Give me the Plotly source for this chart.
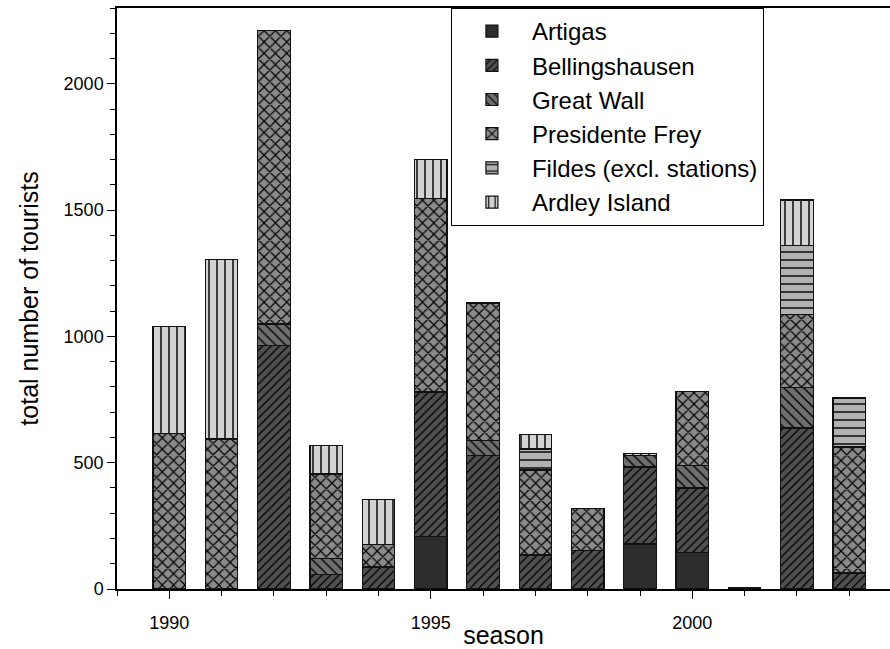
import plotly.graph_objects as go

# Tourist visits per season, stacked by site
seasons = list(range(1990, 2004))
artigas = [None, None, None, None, None, 208, None, None, None, 178, 144, None, None, None]
bellingshausen = [None, None, 964, 59, 87, 572, 527, 135, 152, 305, 256, 5, 637, 63]
great_wall = [None, None, 85, 62, None, None, 60, None, None, 44, 89, None, 162, None]
presidente_frey = [617, 594, 1162, 334, 88, 767, 545, 336, 167, None, 294, None, 289, 499]
fildes = [None, None, None, None, None, None, None, 83, None, None, None, None, 272, 194]
ardley = [422, 709, None, 113, 178, 152, None, 59, None, 10, None, None, 180, None]

# name, values, fill colour, hatch shape, hatch size, hatch solidity
series = [
    ("Artigas", artigas, "#2d2d2d", "", 8, 0.2),
    ("Bellingshausen", bellingshausen, "#505050", "/", 6, 0.22),
    ("Great Wall", great_wall, "#6e6e6e", "\\", 7, 0.2),
    ("Presidente Frey", presidente_frey, "#8a8a8a", "x", 8, 0.28),
    ("Fildes (excl. stations)", fildes, "#b2b2b2", "-", 8, 0.18),
    ("Ardley Island", ardley, "#d3d3d3", "|", 8, 0.18),
]

FONT = "Arial, 'Liberation Sans', sans-serif"

fig = go.Figure()
for name, vals, color, shape, psize, solid in series:
    fig.add_trace(go.Bar(
        x=seasons, y=vals, name=name, width=0.62,
        marker=dict(
            color=color,
            line=dict(color="#111111", width=1.2),
            pattern=dict(shape=shape, fillmode="overlay", fgcolor="#000000",
                         fgopacity=1, size=psize, solidity=solid),
        ),
    ))

fig.update_layout(
    barmode="stack",
    width=890, height=649,
    margin=dict(l=117, r=0, t=8, b=60, autoexpand=False),
    paper_bgcolor="white", plot_bgcolor="white",
    font=dict(family=FONT, size=18, color="black"),
    legend=dict(
        x=0.432, y=1, xanchor="left", yanchor="top",
        bgcolor="white", bordercolor="black", borderwidth=1,
        font=dict(family=FONT, size=24, color="black"),
        itemwidth=70, tracegroupgap=0, traceorder="normal",
    ),
    xaxis=dict(
        range=[1989.0, 2003.78],
        tickvals=[1990, 1995, 2000],
        ticks="outside", ticklen=8, tickwidth=1, tickcolor="black",
        minor=dict(dtick=1, tick0=1990, ticks="outside", ticklen=5, tickcolor="black"),
        showline=True, linecolor="black", linewidth=1.5, mirror=True,
        showgrid=False, zeroline=False, automargin=False,
        ticklabelstandoff=9,
        title=dict(text="season", font=dict(family=FONT, size=25), standoff=0),
    ),
    yaxis=dict(
        range=[0, 2300],
        tickvals=[0, 500, 1000, 1500, 2000],
        ticks="outside", ticklen=8, tickwidth=1, tickcolor="black",
        minor=dict(dtick=100, tick0=0, ticks="outside", ticklen=5, tickcolor="black"),
        showline=True, linecolor="black", linewidth=1.5, mirror=False,
        showgrid=False, zeroline=False, automargin=False,
        title=dict(text="total number of tourists", font=dict(family=FONT, size=25), standoff=18),
    ),
)

fig.write_html("out.html")
